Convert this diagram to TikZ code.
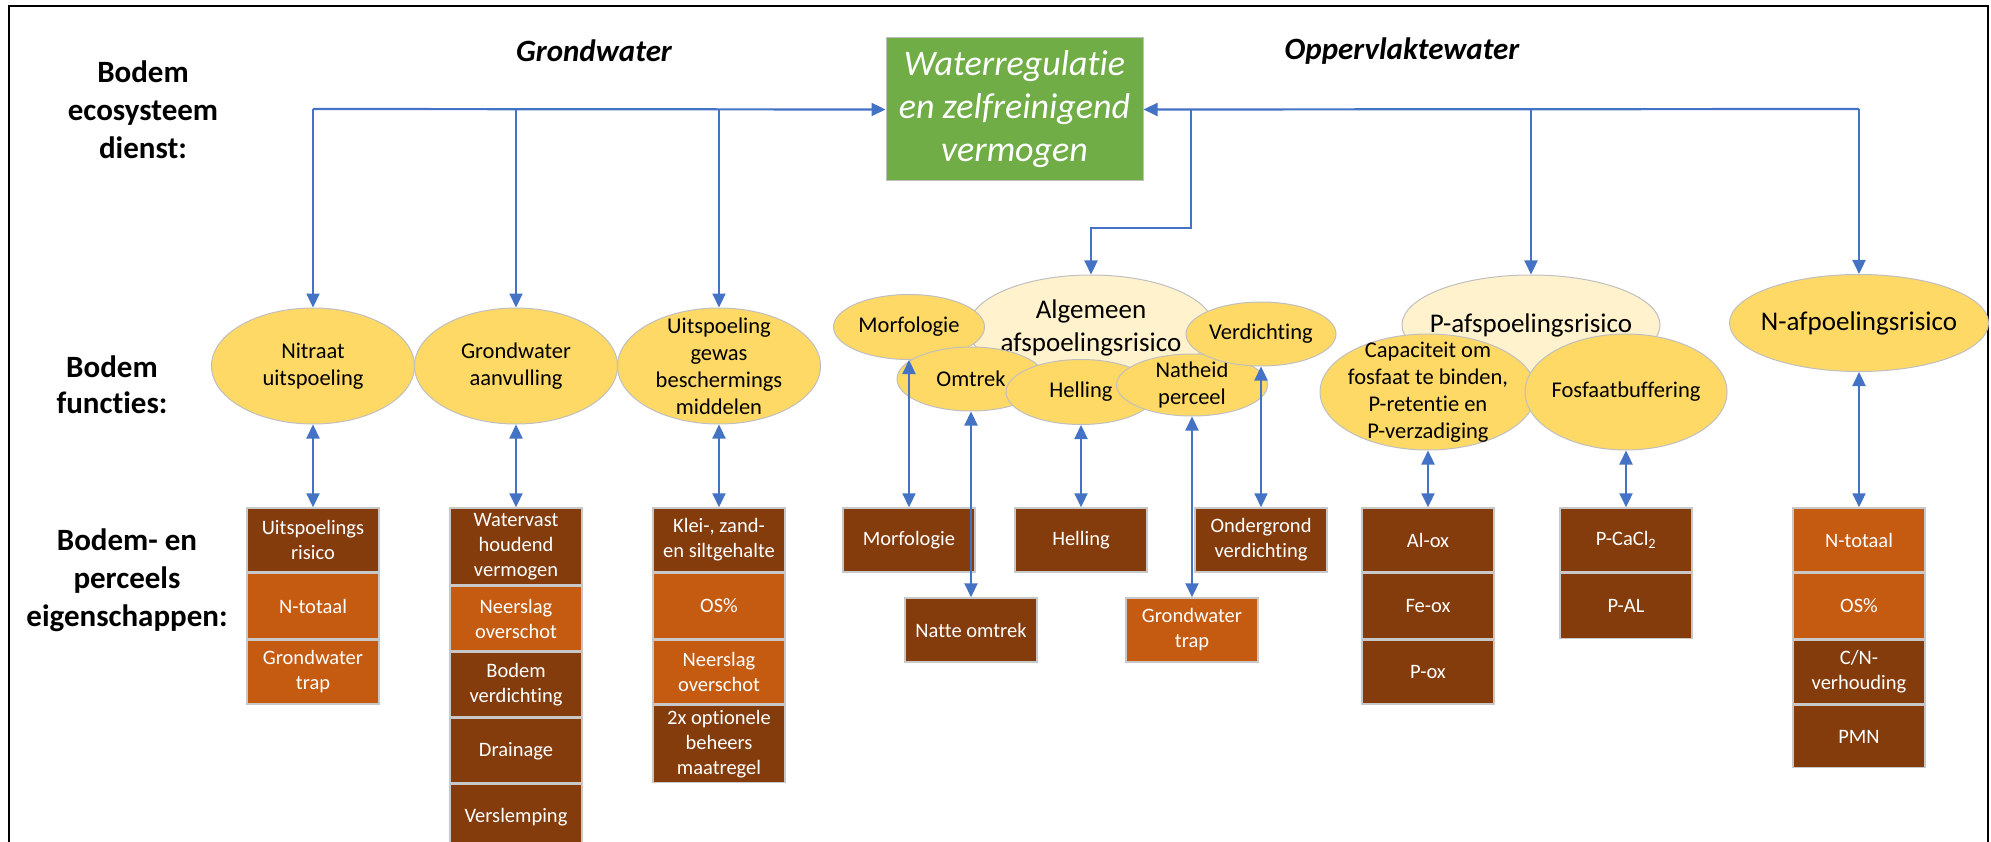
\documentclass[tikz,border=0pt]{standalone}
\usepackage{fontspec}
\setmainfont{Carlito}[Ligatures=NoCommon]
\usetikzlibrary{positioning,shapes.geometric,arrows.meta}
\definecolor{bruin}{HTML}{843C0C}
\definecolor{oranje}{HTML}{C55A11}
\definecolor{groen}{HTML}{70AD47}
\definecolor{geel}{HTML}{FFD966}
\definecolor{lichtgeel}{HTML}{FFF2CC}
\definecolor{blauw}{HTML}{4472C4}
\definecolor{randgrijs}{HTML}{BFBFBF}
\definecolor{boxgrijs}{HTML}{C8C8C8}
\begin{document}
\begin{tikzpicture}[x=1pt,y=-1pt,
  func/.style={ellipse,draw=randgrijs,fill=geel,line width=1pt,inner sep=-40pt,
    align=center,font=\fontsize{22.5}{27}\selectfont},
  groep/.style={func,fill=lichtgeel,font=\fontsize{27}{33}\selectfont},
  eig/.style={rectangle,draw=boxgrijs,fill=bruin,line width=1.5pt,text=white,
    minimum width=132pt,minimum height=64.5pt,inner sep=0pt,align=center,
    font=\fontsize{20.5}{25}\selectfont},
  eigor/.style={eig,fill=oranje},
  kop/.style={align=center,font=\fontsize{31}{38}\selectfont\bfseries},
  pijl/.style={draw=blauw,line width=2.2pt,-{Triangle[length=14pt,width=13pt]}},
  dpijl/.style={pijl,{Triangle[length=14pt,width=13pt]}-{Triangle[length=14pt,width=13pt]}}
]
\useasboundingbox (0,0) rectangle (1991,842);
\draw[line width=2pt] (9,842) -- (9,6) -- (1988,6) -- (1988,842);

\node[kop] (kdienst) at (143,110) {Bodem\\ecosysteem\\dienst:};
\node[kop,font=\fontsize{31}{36}\selectfont\bfseries] (kfunc) at (112,385) {Bodem\\functies:};
\node[kop] (keig) at (127,580) {Bodem- en\\perceels\\eigenschappen:};
\node[kop,font=\fontsize{31}{38}\selectfont\bfseries\itshape] (kgrond) at (594,51) {Grondwater};
\node[kop,font=\fontsize{31}{38}\selectfont\bfseries\itshape] (kopp) at (1402,51) {Oppervlaktewater};

\node[rectangle,draw=randgrijs,fill=groen,line width=1pt,minimum width=257pt,minimum height=143pt,
  text=white,align=center,font=\fontsize{36}{43}\selectfont\itshape] (wr) at (1014.5,109.5)
  {Waterregulatie\\en zelfreinigend\\vermogen};

\node[func,minimum width=203pt,minimum height=116pt] (nit) at (313,366) {Nitraat\\uitspoeling};
\node[func,minimum width=203pt,minimum height=116pt] (gw) at (516,366) {Grondwater\\aanvulling};
\node[func,minimum width=203pt,minimum height=116pt] (gb) at (719,366) {Uitspoeling\\gewas\\beschermings\\middelen};

\node[groep,minimum width=246pt,minimum height=106pt] (alg) at (1091,328) {Algemeen\\afspoelingsrisico};
\node[func,minimum width=151pt,minimum height=65pt] (morf) at (909,327) {Morfologie};
\node[func,minimum width=148pt,minimum height=64pt] (omt) at (971,379) {Omtrek};
\node[func,minimum width=150pt,minimum height=65pt] (hel) at (1081,392) {Helling};
\node[func,minimum width=151pt,minimum height=62pt] (nat) at (1192,385) {Natheid\\perceel};
\node[func,minimum width=150pt,minimum height=64pt] (ver) at (1261,334) {Verdichting};

\node[groep,minimum width=258pt,minimum height=100pt] (pafs) at (1531,325) {P-afspoelingsrisico};
\node[func,minimum width=216pt,minimum height=116pt] (cap) at (1428,392)
  {Capaciteit om\\fosfaat te binden,\\P-retentie en\\P-verzadiging};
\node[func,minimum width=202pt,minimum height=116pt] (fos) at (1626,392) {Fosfaatbuffering};
\node[func,minimum width=259pt,minimum height=97pt,font=\fontsize{27}{33}\selectfont] (nafs) at (1859,323) {N-afpoelingsrisico};

\node[eig,minimum height=64pt] (uit1) at (313,540) {Uitspoelings\\risico};
\node[eigor,minimum height=65pt,below=0pt of uit1] (uit2) {N-totaal};
\node[eigor,minimum height=64pt,below=0pt of uit2] (uit3) {Grondwater\\trap};

\node[eig,minimum height=77pt] (gw1) at (516,546.5) {Watervast\\houdend\\vermogen};
\node[eigor,minimum height=64pt,below=0pt of gw1] (gw2) {Neerslag\\overschot};
\node[eig,minimum height=65pt,below=0pt of gw2] (gw3) {Bodem\\verdichting};
\node[eig,below=0pt of gw3] (gw4) {Drainage};
\node[eig,below=0pt of gw4] (gw5) {Verslemping};

\node[eig,minimum height=64pt] (gb1) at (719,540) {Klei-, zand-\\en siltgehalte};
\node[eigor,minimum height=65pt,below=0pt of gb1] (gb2) {OS\%};
\node[eigor,minimum height=64pt,below=0pt of gb2] (gb3) {Neerslag\\overschot};
\node[eig,minimum height=77pt,below=0pt of gb3] (gb4) {2x optionele\\beheers\\maatregel};

\node[eig,minimum height=64pt] (bmorf) at (909,540) {Morfologie};
\node[eig,minimum height=64pt] (bhel) at (1081,540) {Helling};
\node[eig,minimum height=64pt] (bond) at (1261,540) {Ondergrond\\verdichting};
\node[eig,minimum height=64pt] (bnat) at (971,630) {Natte omtrek};
\node[eigor,minimum height=64pt] (bgwt) at (1192,630) {Grondwater\\trap};

\node[eig,minimum height=64pt] (alox) at (1428,540) {Al-ox};
\node[eig,minimum height=65pt,below=0pt of alox] (feox) {Fe-ox};
\node[eig,minimum height=64pt,below=0pt of feox] (pox) {P-ox};

\node[eig,minimum height=64pt] (pca) at (1626,540) {P-CaCl\textsubscript{2}};
\node[eig,minimum height=65pt,below=0pt of pca] (pal) {P-AL};

\node[eigor,minimum height=64pt] (ntot) at (1859,540) {N-totaal};
\node[eigor,minimum height=65pt,below=0pt of ntot] (nos) {OS\%};
\node[eig,minimum height=64pt,below=0pt of nos] (ncn) {C/N-\\verhouding};
\node[eig,minimum height=62pt,below=0pt of ncn] (npmn) {PMN};

\coordinate (jl) at (313,109);
\coordinate (jr) at (1859,109);
\coordinate (jalg) at (1191,109);
\coordinate (kalg) at (1191,228);

\draw[pijl] (jl) -- (wr.west);
\draw[pijl] (jl) -- (nit.north);
\draw[pijl] (gw.north |- jl) -- (gw.north);
\draw[pijl] (gb.north |- jl) -- (gb.north);
\draw[pijl] (jr) -- (wr.east);
\draw[pijl] (jr) -- (nafs.north);
\draw[pijl] (pafs.north |- jr) -- (pafs.north);
\draw[pijl] (jalg) -- (kalg) -| (alg.north);

\draw[dpijl] (nit.south) -- (uit1.north);
\draw[dpijl] (gw.south) -- (gw1.north);
\draw[dpijl] (gb.south) -- (gb1.north);
\draw[dpijl] (morf.south) -- (bmorf.north);
\draw[dpijl] (omt.south) -- (bnat.north);
\draw[dpijl] (hel.south) -- (bhel.north);
\draw[dpijl] (nat.south) -- (bgwt.north);
\draw[dpijl] (ver.south) -- (bond.north);
\draw[dpijl] (cap.south) -- (alox.north);
\draw[dpijl] (fos.south) -- (pca.north);
\draw[dpijl] (nafs.south) -- (ntot.north);
\end{tikzpicture}
\end{document}
